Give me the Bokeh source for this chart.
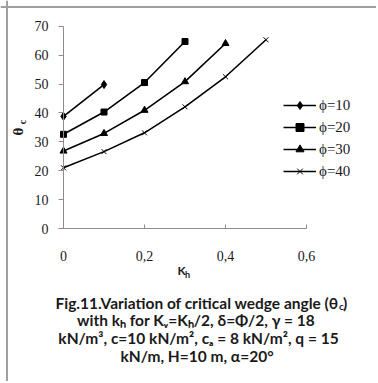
import math
from bokeh.plotting import figure
from bokeh.models import (Range1d, LinearAxis, FixedTicker, CustomJSTickFormatter,
                          Legend, LegendItem, Span)
from bokeh.core.properties import value
from bokeh.embed import file_html
from bokeh.resources import INLINE

# ---------------- data ----------------
kh_10 = [0.0, 0.1]
theta_10 = [38.8, 49.8]
kh_20 = [0.0, 0.1, 0.2, 0.3]
theta_20 = [32.6, 40.3, 50.5, 64.7]
kh_30 = [0.0, 0.1, 0.2, 0.3, 0.4]
theta_30 = [26.8, 32.9, 40.9, 50.8, 64.0]
kh_40 = [0.0, 0.1, 0.2, 0.3, 0.4, 0.5]
theta_40 = [21.0, 26.6, 33.1, 42.1, 52.5, 65.3]
series_labels = ["\u03d5=10", "\u03d5=20", "\u03d5=30", "\u03d5=40"]
x_ticks = [0.0, 0.2, 0.4, 0.6]
x_tick_labels = ["0", "0,2", "0,4", "0,6"]
y_ticks = [0, 10, 20, 30, 40, 50, 60, 70]
caption_line1 = "Fig.11.Variation of critical wedge angle (\u03b8"
caption_lines = [
    "with k\u2095 for  K\u1d65=K\u2095/2, \u03b4=\u03a6/2, \u03b3 = 18",
    "kN/m\u00b3, c=10 kN/m\u00b2, c\u2090 = 8 kN/m\u00b2, q = 15",
    "kN/m, H=10 m, \u03b1=20\u00b0",
]

# ---------------- layout (page pixels) ----------------
M = 0                      # the Bokeh page template has no body margin
W, H = 376, 381
X0_PX, X_PX_PER_UNIT = 63.0, 405.0      # page x of k=0, px per unit
Y0_PX, Y_PX_PER_UNIT = 228.0, 2.89      # page y of theta=0, px per unit
frame_left, frame_top = M, M
frame_right, frame_bottom = M + W, M + H

def dx(px):
    return (px - X0_PX) / X_PX_PER_UNIT

def dy(py):
    return (Y0_PX - py) / Y_PX_PER_UNIT

p = figure(width=W, height=H, output_backend="svg", toolbar_location=None,
           x_axis_type=None, y_axis_type=None,
           x_range=Range1d(dx(frame_left), dx(frame_right)),
           y_range=Range1d(dy(frame_bottom), dy(frame_top)),
           min_border_left=0, min_border_top=0, min_border_right=0, min_border_bottom=0)
p.border_fill_color = "white"
p.background_fill_color = "white"
p.outline_line_color = None

# picture frame (only its left and top edges are in view)
BORDER = "#a0a0a0"
p.add_layout(Span(location=dx(6.5), dimension="height", line_color=BORDER, line_width=2))
p.add_layout(Span(location=dy(6.5), dimension="width", line_color=BORDER, line_width=2))

AX_COL = "#8c8c8c"
xaxis = LinearAxis(fixed_location=0, bounds=(0, 0.6),
                   ticker=FixedTicker(ticks=x_ticks),
                   formatter=CustomJSTickFormatter(args=dict(xt=x_ticks, xl=x_tick_labels), code="""
                       for (let i = 0; i < xt.length; i++) {
                           if (Math.abs(xt[i] - tick) < 1e-9) return xl[i];
                       }
                       return "";
                   """))
yaxis = LinearAxis(fixed_location=0, bounds=(0, 70), ticker=FixedTicker(ticks=y_ticks))
for ax in (xaxis, yaxis):
    ax.axis_line_color = AX_COL
    ax.major_tick_line_color = AX_COL
    ax.minor_tick_line_color = None
    ax.major_label_text_font = "Liberation Serif"
    ax.major_label_text_font_size = "14px"
    ax.major_label_text_color = "#1a1a1a"
xaxis.major_tick_in = 4
xaxis.major_tick_out = 0
xaxis.major_label_standoff = 22
yaxis.major_tick_in = 0
yaxis.major_tick_out = 5
yaxis.major_label_standoff = 10
p.add_layout(xaxis, "below")
p.add_layout(yaxis, "left")

# ---------------- series ----------------
items = []
specs = [
    (kh_10, theta_10, "diamond", 8),
    (kh_20, theta_20, "square", 6),
    (kh_30, theta_30, "triangle", 7),
    (kh_40, theta_40, "x", 7),
]
for (xs, ys, marker, size), lab in zip(specs, series_labels):
    lr = p.line(xs, ys, line_color="black", line_width=1.6)
    sr = p.scatter(xs, ys, marker=marker, size=size, fill_color="black",
                   line_color="black", line_width=1)
    items.append(LegendItem(label=lab, renderers=[lr, sr]))

legend_top_px = 95
n = len(items)
gh, sp = 20, 2
legend_h = n * gh + (n - 1) * sp
legend = Legend(items=items,
                location=(283 - frame_left, frame_bottom - (legend_top_px + legend_h)),
                glyph_width=33, glyph_height=gh, label_height=gh, spacing=sp,
                label_standoff=3, padding=0, margin=0,
                border_line_color=None, background_fill_alpha=0,
                label_text_font="Liberation Serif", label_text_font_size="15px",
                label_text_color="#1a1a1a")
p.add_layout(legend, "center")

TXT = "#1a1a1a"

def put(px, py, s, font, size, align="center", angle=0.0, bold=True):
    p.text(x=[dx(px)], y=[dy(py)], text=[s], angle=angle,
           text_font=value(font), text_font_size=size,
           text_font_style="bold" if bold else "normal",
           text_align=align, text_baseline="middle", text_color=TXT)

# ---------------- axis titles ----------------
put(17, 131, "\u03b8", "Liberation Serif", "15px", angle=math.pi / 2)
put(21.5, 121.5, "c", "Liberation Serif", "10px", angle=math.pi / 2)
put(181, 269.5, "K", "Lato", "12px")
put(187, 274, "h", "Lato", "9px")

# ---------------- caption ----------------
CAP_FONT, CAP_SIZE = "Lato", "15.5px"
put(338, 302, caption_line1, CAP_FONT, CAP_SIZE, align="right")
put(338.5, 305.5, "c", CAP_FONT, "10px", align="left")
put(342.5, 302, ")", CAP_FONT, CAP_SIZE, align="left")
for s, (cx, cy) in zip(caption_lines, [(197.5, 319.5), (198, 337), (196.5, 355)]):
    put(cx, cy, s, CAP_FONT, CAP_SIZE)

open("out.html", "w").write(file_html(p, INLINE))
